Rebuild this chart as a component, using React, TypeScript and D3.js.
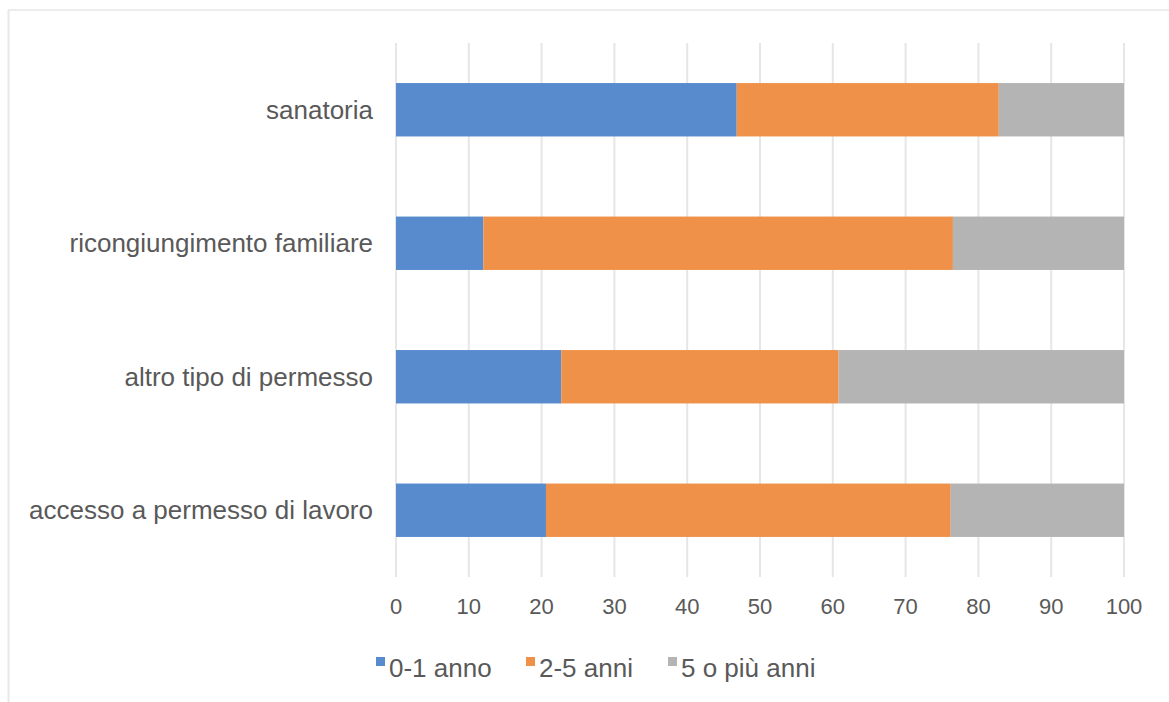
import React, { useEffect, useRef } from "react";
import * as d3 from "d3";

const categories = [
  "sanatoria",
  "ricongiungimento familiare",
  "altro tipo di permesso",
  "accesso a permesso di lavoro",
];
const seriesNames = ["0-1 anno", "2-5 anni", "5 o più anni"];
const anni01 = [46.8, 12.0, 22.7, 20.6];
const anni25 = [36.0, 64.5, 38.1, 55.6];
const anni5plus = [17.2, 23.5, 39.2, 23.8];
const xTicks = [0, 10, 20, 30, 40, 50, 60, 70, 80, 90, 100];

const colors = ["#578bcd", "#f0914a", "#b4b4b4"];

export default function App() {
  const ref = useRef<SVGSVGElement>(null);

  useEffect(() => {
    const svg = d3.select(ref.current);
    svg.selectAll("*").remove();

    const font = "'Liberation Sans', Arial, Helvetica, sans-serif";
    const textColor = "#595959";

    // frame (only left/top visible in the crop)
    svg.append("line").attr("x1", 8.5).attr("x2", 8.5).attr("y1", 10).attr("y2", 702)
      .attr("stroke", "#e8e8e8").attr("stroke-width", 2);
    svg.append("line").attr("x1", 8).attr("x2", 1169).attr("y1", 10).attr("y2", 10)
      .attr("stroke", "#ececec").attr("stroke-width", 2);

    const x = d3.scaleLinear().domain([0, 100]).range([396, 1124]);
    const y = d3.scaleBand().domain(categories).range([43, 577])
      .paddingInner(0.6).paddingOuter(0.3);

    // grid
    svg.append("g").selectAll("line").data(xTicks).enter().append("line")
      .attr("x1", d => x(d)).attr("x2", d => x(d))
      .attr("y1", 43).attr("y2", 577)
      .attr("stroke", "#e6e6e6").attr("stroke-width", 2);

    const rows = categories.map((c, i) => ({
      cat: c, "0-1 anno": anni01[i], "2-5 anni": anni25[i], "5 o più anni": anni5plus[i],
    }));
    const stack = d3.stack<any>().keys(seriesNames)(rows);

    svg.append("g").selectAll("g").data(stack).enter().append("g")
      .attr("fill", (d, i) => colors[i])
      .selectAll("rect").data(d => d).enter().append("rect")
      .attr("x", d => x(d[0]))
      .attr("width", d => x(d[1]) - x(d[0]))
      .attr("y", d => y(d.data.cat)!)
      .attr("height", y.bandwidth());

    // category labels
    svg.append("g").selectAll("text").data(categories).enter().append("text")
      .attr("x", 373)
      .attr("y", d => y(d)! + y.bandwidth() / 2)
      .attr("dy", "0.35em")
      .attr("text-anchor", "end")
      .attr("font-family", font).attr("font-size", 26).attr("fill", textColor)
      .text(d => d);

    // x tick labels
    svg.append("g").selectAll("text").data(xTicks).enter().append("text")
      .attr("x", d => x(d))
      .attr("y", 614)
      .attr("text-anchor", "middle")
      .attr("font-family", font).attr("font-size", 22).attr("fill", textColor)
      .text(d => d);

    // legend
    const legendX = [376, 526, 668];
    const lg = svg.append("g").selectAll("g").data(seriesNames).enter().append("g")
      .attr("transform", (d, i) => `translate(${legendX[i]},0)`);
    lg.append("rect").attr("x", 0).attr("y", 657).attr("width", 9).attr("height", 9)
      .attr("fill", (d, i) => colors[i]);
    lg.append("text").attr("x", 13).attr("y", 677)
      .attr("font-family", font).attr("font-size", 26).attr("fill", textColor)
      .text(d => d);
  }, []);

  return (
    <svg ref={ref} width={1169} height={702}
      style={{ position: "absolute", left: 0, top: 0, background: "#fff" }} />
  );
}
